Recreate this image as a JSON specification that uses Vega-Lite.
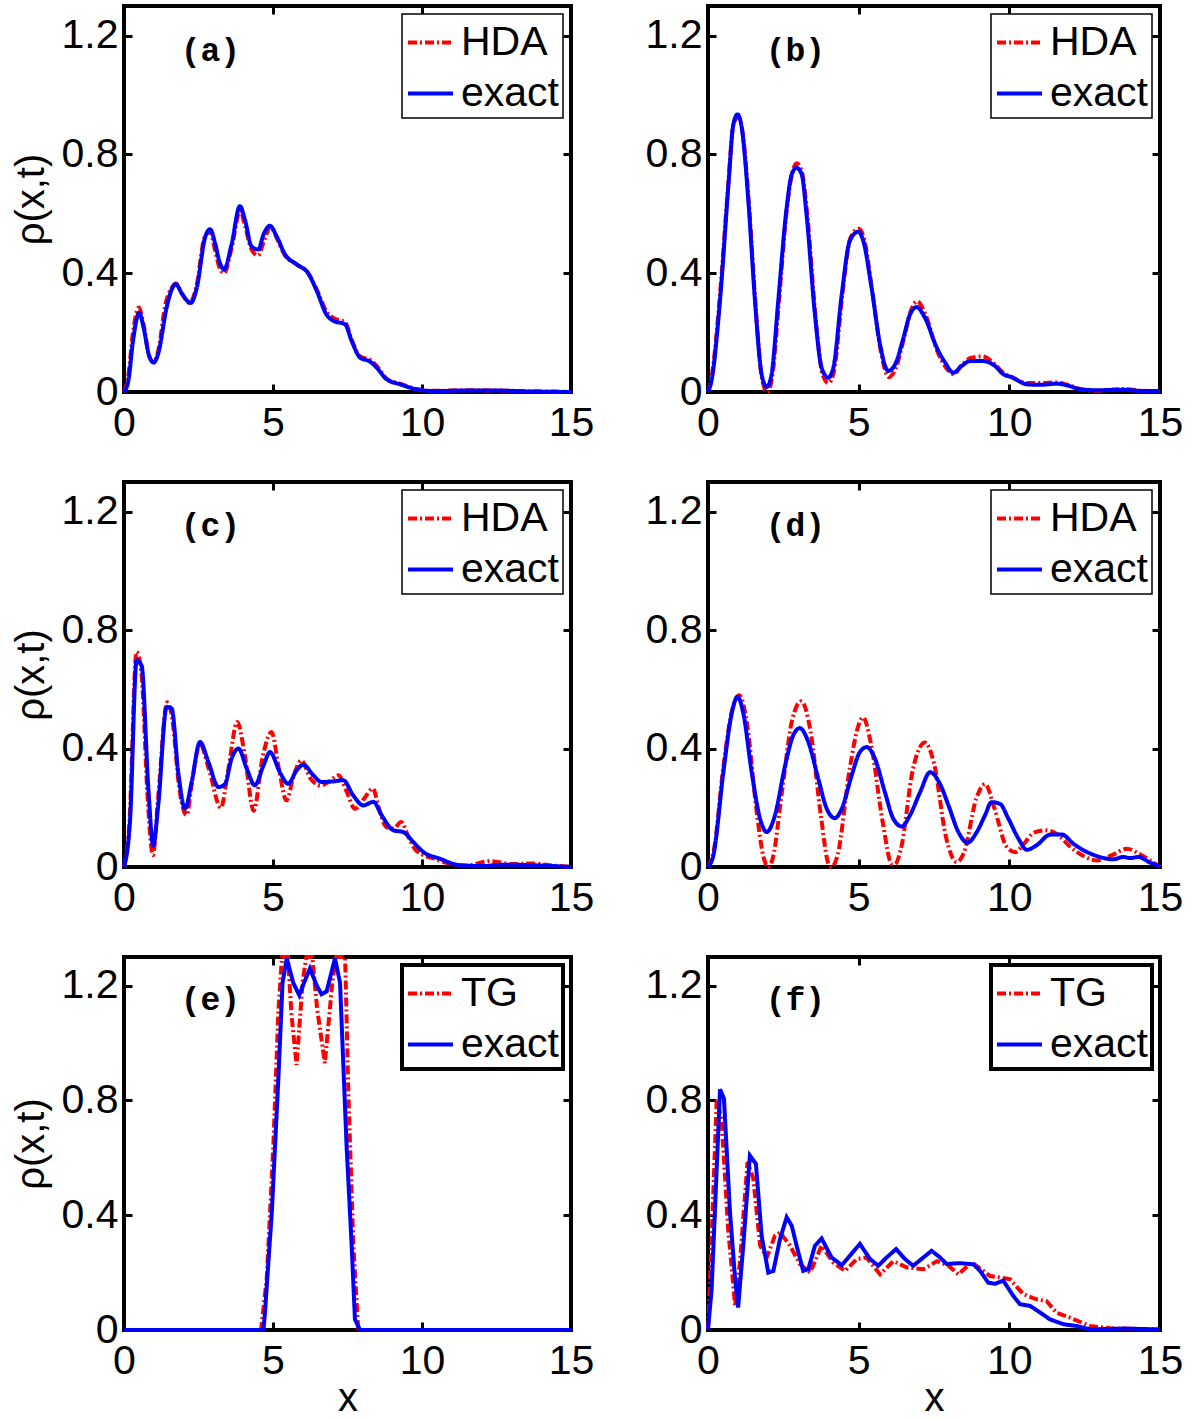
{
  "$schema": "https://vega.github.io/schema/vega-lite/v6.json",
  "padding": {"left": 9, "top": 2, "right": 5, "bottom": 5},
  "background": "white",
  "config": {
    "font": "Liberation Sans",
    "view": {"stroke": "black", "strokeWidth": 4},
    "axis": {"domain": false, "grid": false, "labelFontSize": 41, "labelColor": "black", "labelFont": "Liberation Sans",
      "tickColor": "black", "tickSize": -8, "tickWidth": 3, "labelPadding": 14, "labelFlush": false, "labelOverlap": false,
      "titleFontSize": 40, "titleFontWeight": "normal", "titleColor": "black", "titleFont": "Liberation Sans", "titlePadding": 10},
    "axisX": {"labelPadding": 19, "titlePadding": -3},
    "legend": {"orient": "top-right", "offset": 8, "labelFontSize": 41, "labelFont": "Liberation Sans", "labelColor": "black",
      "symbolType": "stroke", "symbolSize": 2025, "symbolStrokeWidth": 4, "padding": 4, "rowPadding": 6, "labelOffset": 6,
      "strokeColor": "black", "fillColor": "white", "labelLimit": 0}
  },
  "data": {"name": "d"},
  "columns": 2,
  "spacing": {"row": 90, "column": 137},
  "bounds": "flush",
  "align": "each",
  "resolve": {"scale": {"color": "independent", "strokeDash": "independent"}},
  "concat": [
    {"width": 447, "height": 386, "layer": [
      {"transform": [{"filter": "datum.p=='a' && datum.s=='HDA'"}], "mark": {"type": "line", "strokeWidth": 4, "interpolate": "monotone"},
       "encoding": {"x": {"field": "x", "type": "quantitative", "scale": {"domain": [0, 15], "nice": false, "zero": false}, "axis": {"values": [0, 5, 10, 15], "format": "d", "title": null}},
         "y": {"field": "y", "type": "quantitative", "scale": {"domain": [0, 1.3], "nice": false}, "axis": {"values": [0, 0.4, 0.8, 1.2], "labelExpr": "datum.value == 0 ? '0' : format(datum.value, '.1f')", "title": "ρ(x,t)"}},
         "color": {"field": "s", "type": "nominal", "scale": {"domain": ["HDA", "exact"], "range": ["#ff0000", "#0000ff"]}, "legend": {"title": null, "encode": {"legend": {"update": {"strokeWidth": {"value": 1.5}}}}}},
         "strokeDash": {"field": "s", "type": "nominal", "scale": {"domain": ["HDA", "exact"], "range": [[9, 3, 2, 3], [1, 0]]}, "legend": {"title": null}}}},
      {"transform": [{"filter": "datum.p=='a' && datum.s=='exact'"}], "mark": {"type": "line", "strokeWidth": 4, "interpolate": "monotone"},
       "encoding": {"x": {"field": "x", "type": "quantitative", "scale": {"domain": [0, 15], "nice": false, "zero": false}, "axis": null},
         "y": {"field": "y", "type": "quantitative", "scale": {"domain": [0, 1.3], "nice": false}, "axis": null},
         "color": {"field": "s", "type": "nominal", "scale": {"domain": ["HDA", "exact"], "range": ["#ff0000", "#0000ff"]}},
         "strokeDash": {"field": "s", "type": "nominal", "scale": {"domain": ["HDA", "exact"], "range": [[9, 3, 2, 3], [1, 0]]}}}},
      {"data": {"values": [{}]}, "mark": {"type": "text", "font": "Liberation Mono", "fontWeight": "bold", "fontSize": 33, "color": "black"},
       "encoding": {"x": {"datum": 2.9, "type": "quantitative", "scale": {"domain": [0, 15], "nice": false, "zero": false}, "axis": {"orient": "top", "values": [0, 5, 10, 15], "labels": false, "title": null}},
         "y": {"datum": 1.15, "type": "quantitative", "scale": {"domain": [0, 1.3], "nice": false}, "axis": {"orient": "right", "values": [0, 0.4, 0.8, 1.2], "labels": false, "title": null}},
         "text": {"value": "(a)"}}}
    ], "resolve": {"axis": {"x": "independent", "y": "independent"}}},

    {"width": 452, "height": 386, "layer": [
      {"transform": [{"filter": "datum.p=='b' && datum.s=='HDA'"}], "mark": {"type": "line", "strokeWidth": 4, "interpolate": "monotone"},
       "encoding": {"x": {"field": "x", "type": "quantitative", "scale": {"domain": [0, 15], "nice": false, "zero": false}, "axis": {"values": [0, 5, 10, 15], "format": "d", "title": null}},
         "y": {"field": "y", "type": "quantitative", "scale": {"domain": [0, 1.3], "nice": false}, "axis": {"values": [0, 0.4, 0.8, 1.2], "labelExpr": "datum.value == 0 ? '0' : format(datum.value, '.1f')", "title": null}},
         "color": {"field": "s", "type": "nominal", "scale": {"domain": ["HDA", "exact"], "range": ["#ff0000", "#0000ff"]}, "legend": {"title": null, "encode": {"legend": {"update": {"strokeWidth": {"value": 1.5}}}}}},
         "strokeDash": {"field": "s", "type": "nominal", "scale": {"domain": ["HDA", "exact"], "range": [[9, 3, 2, 3], [1, 0]]}, "legend": {"title": null}}}},
      {"transform": [{"filter": "datum.p=='b' && datum.s=='exact'"}], "mark": {"type": "line", "strokeWidth": 4, "interpolate": "monotone"},
       "encoding": {"x": {"field": "x", "type": "quantitative", "scale": {"domain": [0, 15], "nice": false, "zero": false}, "axis": null},
         "y": {"field": "y", "type": "quantitative", "scale": {"domain": [0, 1.3], "nice": false}, "axis": null},
         "color": {"field": "s", "type": "nominal", "scale": {"domain": ["HDA", "exact"], "range": ["#ff0000", "#0000ff"]}},
         "strokeDash": {"field": "s", "type": "nominal", "scale": {"domain": ["HDA", "exact"], "range": [[9, 3, 2, 3], [1, 0]]}}}},
      {"data": {"values": [{}]}, "mark": {"type": "text", "font": "Liberation Mono", "fontWeight": "bold", "fontSize": 33, "color": "black"},
       "encoding": {"x": {"datum": 2.9, "type": "quantitative", "scale": {"domain": [0, 15], "nice": false, "zero": false}, "axis": {"orient": "top", "values": [0, 5, 10, 15], "labels": false, "title": null}},
         "y": {"datum": 1.15, "type": "quantitative", "scale": {"domain": [0, 1.3], "nice": false}, "axis": {"orient": "right", "values": [0, 0.4, 0.8, 1.2], "labels": false, "title": null}},
         "text": {"value": "(b)"}}}
    ], "resolve": {"axis": {"x": "independent", "y": "independent"}}},

    {"width": 447, "height": 385, "layer": [
      {"transform": [{"filter": "datum.p=='c' && datum.s=='HDA'"}], "mark": {"type": "line", "strokeWidth": 4, "interpolate": "monotone"},
       "encoding": {"x": {"field": "x", "type": "quantitative", "scale": {"domain": [0, 15], "nice": false, "zero": false}, "axis": {"values": [0, 5, 10, 15], "format": "d", "title": null}},
         "y": {"field": "y", "type": "quantitative", "scale": {"domain": [0, 1.3], "nice": false}, "axis": {"values": [0, 0.4, 0.8, 1.2], "labelExpr": "datum.value == 0 ? '0' : format(datum.value, '.1f')", "title": "ρ(x,t)"}},
         "color": {"field": "s", "type": "nominal", "scale": {"domain": ["HDA", "exact"], "range": ["#ff0000", "#0000ff"]}, "legend": {"title": null, "encode": {"legend": {"update": {"strokeWidth": {"value": 1.5}}}}}},
         "strokeDash": {"field": "s", "type": "nominal", "scale": {"domain": ["HDA", "exact"], "range": [[9, 3, 2, 3], [1, 0]]}, "legend": {"title": null}}}},
      {"transform": [{"filter": "datum.p=='c' && datum.s=='exact'"}], "mark": {"type": "line", "strokeWidth": 4, "interpolate": "monotone"},
       "encoding": {"x": {"field": "x", "type": "quantitative", "scale": {"domain": [0, 15], "nice": false, "zero": false}, "axis": null},
         "y": {"field": "y", "type": "quantitative", "scale": {"domain": [0, 1.3], "nice": false}, "axis": null},
         "color": {"field": "s", "type": "nominal", "scale": {"domain": ["HDA", "exact"], "range": ["#ff0000", "#0000ff"]}},
         "strokeDash": {"field": "s", "type": "nominal", "scale": {"domain": ["HDA", "exact"], "range": [[9, 3, 2, 3], [1, 0]]}}}},
      {"data": {"values": [{}]}, "mark": {"type": "text", "font": "Liberation Mono", "fontWeight": "bold", "fontSize": 33, "color": "black"},
       "encoding": {"x": {"datum": 2.9, "type": "quantitative", "scale": {"domain": [0, 15], "nice": false, "zero": false}, "axis": {"orient": "top", "values": [0, 5, 10, 15], "labels": false, "title": null}},
         "y": {"datum": 1.15, "type": "quantitative", "scale": {"domain": [0, 1.3], "nice": false}, "axis": {"orient": "right", "values": [0, 0.4, 0.8, 1.2], "labels": false, "title": null}},
         "text": {"value": "(c)"}}}
    ], "resolve": {"axis": {"x": "independent", "y": "independent"}}},

    {"width": 452, "height": 385, "layer": [
      {"transform": [{"filter": "datum.p=='d' && datum.s=='HDA'"}], "mark": {"type": "line", "strokeWidth": 4, "interpolate": "monotone"},
       "encoding": {"x": {"field": "x", "type": "quantitative", "scale": {"domain": [0, 15], "nice": false, "zero": false}, "axis": {"values": [0, 5, 10, 15], "format": "d", "title": null}},
         "y": {"field": "y", "type": "quantitative", "scale": {"domain": [0, 1.3], "nice": false}, "axis": {"values": [0, 0.4, 0.8, 1.2], "labelExpr": "datum.value == 0 ? '0' : format(datum.value, '.1f')", "title": null}},
         "color": {"field": "s", "type": "nominal", "scale": {"domain": ["HDA", "exact"], "range": ["#ff0000", "#0000ff"]}, "legend": {"title": null, "encode": {"legend": {"update": {"strokeWidth": {"value": 1.5}}}}}},
         "strokeDash": {"field": "s", "type": "nominal", "scale": {"domain": ["HDA", "exact"], "range": [[9, 3, 2, 3], [1, 0]]}, "legend": {"title": null}}}},
      {"transform": [{"filter": "datum.p=='d' && datum.s=='exact'"}], "mark": {"type": "line", "strokeWidth": 4, "interpolate": "monotone"},
       "encoding": {"x": {"field": "x", "type": "quantitative", "scale": {"domain": [0, 15], "nice": false, "zero": false}, "axis": null},
         "y": {"field": "y", "type": "quantitative", "scale": {"domain": [0, 1.3], "nice": false}, "axis": null},
         "color": {"field": "s", "type": "nominal", "scale": {"domain": ["HDA", "exact"], "range": ["#ff0000", "#0000ff"]}},
         "strokeDash": {"field": "s", "type": "nominal", "scale": {"domain": ["HDA", "exact"], "range": [[9, 3, 2, 3], [1, 0]]}}}},
      {"data": {"values": [{}]}, "mark": {"type": "text", "font": "Liberation Mono", "fontWeight": "bold", "fontSize": 33, "color": "black"},
       "encoding": {"x": {"datum": 2.9, "type": "quantitative", "scale": {"domain": [0, 15], "nice": false, "zero": false}, "axis": {"orient": "top", "values": [0, 5, 10, 15], "labels": false, "title": null}},
         "y": {"datum": 1.15, "type": "quantitative", "scale": {"domain": [0, 1.3], "nice": false}, "axis": {"orient": "right", "values": [0, 0.4, 0.8, 1.2], "labels": false, "title": null}},
         "text": {"value": "(d)"}}}
    ], "resolve": {"axis": {"x": "independent", "y": "independent"}}},

    {"width": 447, "height": 373, "layer": [
      {"transform": [{"filter": "datum.p=='e' && datum.s=='TG'"}], "mark": {"type": "line", "strokeWidth": 4},
       "encoding": {"x": {"field": "x", "type": "quantitative", "scale": {"domain": [0, 15], "nice": false, "zero": false}, "axis": {"values": [0, 5, 10, 15], "format": "d", "title": "x"}},
         "y": {"field": "y", "type": "quantitative", "scale": {"domain": [0, 1.3], "nice": false}, "axis": {"values": [0, 0.4, 0.8, 1.2], "labelExpr": "datum.value == 0 ? '0' : format(datum.value, '.1f')", "title": "ρ(x,t)"}},
         "color": {"field": "s", "type": "nominal", "scale": {"domain": ["TG", "exact"], "range": ["#ff0000", "#0000ff"]}, "legend": {"title": null, "encode": {"legend": {"update": {"strokeWidth": {"value": 4}}}}}},
         "strokeDash": {"field": "s", "type": "nominal", "scale": {"domain": ["TG", "exact"], "range": [[9, 3, 2, 3], [1, 0]]}, "legend": {"title": null}}}},
      {"transform": [{"filter": "datum.p=='e' && datum.s=='exact'"}], "mark": {"type": "line", "strokeWidth": 4},
       "encoding": {"x": {"field": "x", "type": "quantitative", "scale": {"domain": [0, 15], "nice": false, "zero": false}, "axis": null},
         "y": {"field": "y", "type": "quantitative", "scale": {"domain": [0, 1.3], "nice": false}, "axis": null},
         "color": {"field": "s", "type": "nominal", "scale": {"domain": ["TG", "exact"], "range": ["#ff0000", "#0000ff"]}},
         "strokeDash": {"field": "s", "type": "nominal", "scale": {"domain": ["TG", "exact"], "range": [[9, 3, 2, 3], [1, 0]]}}}},
      {"data": {"values": [{}]}, "mark": {"type": "text", "font": "Liberation Mono", "fontWeight": "bold", "fontSize": 33, "color": "black"},
       "encoding": {"x": {"datum": 2.9, "type": "quantitative", "scale": {"domain": [0, 15], "nice": false, "zero": false}, "axis": {"orient": "top", "values": [0, 5, 10, 15], "labels": false, "title": null}},
         "y": {"datum": 1.15, "type": "quantitative", "scale": {"domain": [0, 1.3], "nice": false}, "axis": {"orient": "right", "values": [0, 0.4, 0.8, 1.2], "labels": false, "title": null}},
         "text": {"value": "(e)"}}}
    ], "resolve": {"axis": {"x": "independent", "y": "independent"}}},

    {"width": 452, "height": 373, "layer": [
      {"transform": [{"filter": "datum.p=='f' && datum.s=='TG'"}], "mark": {"type": "line", "strokeWidth": 4},
       "encoding": {"x": {"field": "x", "type": "quantitative", "scale": {"domain": [0, 15], "nice": false, "zero": false}, "axis": {"values": [0, 5, 10, 15], "format": "d", "title": "x"}},
         "y": {"field": "y", "type": "quantitative", "scale": {"domain": [0, 1.3], "nice": false}, "axis": {"values": [0, 0.4, 0.8, 1.2], "labelExpr": "datum.value == 0 ? '0' : format(datum.value, '.1f')", "title": null}},
         "color": {"field": "s", "type": "nominal", "scale": {"domain": ["TG", "exact"], "range": ["#ff0000", "#0000ff"]}, "legend": {"title": null, "encode": {"legend": {"update": {"strokeWidth": {"value": 4}}}}}},
         "strokeDash": {"field": "s", "type": "nominal", "scale": {"domain": ["TG", "exact"], "range": [[9, 3, 2, 3], [1, 0]]}, "legend": {"title": null}}}},
      {"transform": [{"filter": "datum.p=='f' && datum.s=='exact'"}], "mark": {"type": "line", "strokeWidth": 4},
       "encoding": {"x": {"field": "x", "type": "quantitative", "scale": {"domain": [0, 15], "nice": false, "zero": false}, "axis": null},
         "y": {"field": "y", "type": "quantitative", "scale": {"domain": [0, 1.3], "nice": false}, "axis": null},
         "color": {"field": "s", "type": "nominal", "scale": {"domain": ["TG", "exact"], "range": ["#ff0000", "#0000ff"]}},
         "strokeDash": {"field": "s", "type": "nominal", "scale": {"domain": ["TG", "exact"], "range": [[9, 3, 2, 3], [1, 0]]}}}},
      {"data": {"values": [{}]}, "mark": {"type": "text", "font": "Liberation Mono", "fontWeight": "bold", "fontSize": 33, "color": "black"},
       "encoding": {"x": {"datum": 2.9, "type": "quantitative", "scale": {"domain": [0, 15], "nice": false, "zero": false}, "axis": {"orient": "top", "values": [0, 5, 10, 15], "labels": false, "title": null}},
         "y": {"datum": 1.15, "type": "quantitative", "scale": {"domain": [0, 1.3], "nice": false}, "axis": {"orient": "right", "values": [0, 0.4, 0.8, 1.2], "labels": false, "title": null}},
         "text": {"value": "(f)"}}}
    ], "resolve": {"axis": {"x": "independent", "y": "independent"}}}
  ],
  "datasets": {"d": [
{"p":"a","s":"HDA","x":0,"y":0},{"p":"a","s":"HDA","x":0.15,"y":0.06},{"p":"a","s":"HDA","x":0.3,"y":0.2},{"p":"a","s":"HDA","x":0.5,"y":0.285},{"p":"a","s":"HDA","x":0.65,"y":0.23},{"p":"a","s":"HDA","x":0.85,"y":0.12},{"p":"a","s":"HDA","x":1.0,"y":0.1},{"p":"a","s":"HDA","x":1.15,"y":0.14},{"p":"a","s":"HDA","x":1.4,"y":0.3},{"p":"a","s":"HDA","x":1.6,"y":0.35},{"p":"a","s":"HDA","x":1.74,"y":0.365},{"p":"a","s":"HDA","x":1.95,"y":0.33},{"p":"a","s":"HDA","x":2.2,"y":0.3},{"p":"a","s":"HDA","x":2.44,"y":0.36},{"p":"a","s":"HDA","x":2.7,"y":0.52},{"p":"a","s":"HDA","x":2.88,"y":0.54},{"p":"a","s":"HDA","x":3.05,"y":0.48},{"p":"a","s":"HDA","x":3.2,"y":0.42},{"p":"a","s":"HDA","x":3.36,"y":0.4},{"p":"a","s":"HDA","x":3.6,"y":0.48},{"p":"a","s":"HDA","x":3.9,"y":0.61},{"p":"a","s":"HDA","x":4.06,"y":0.56},{"p":"a","s":"HDA","x":4.28,"y":0.48},{"p":"a","s":"HDA","x":4.5,"y":0.46},{"p":"a","s":"HDA","x":4.7,"y":0.51},{"p":"a","s":"HDA","x":4.92,"y":0.555},{"p":"a","s":"HDA","x":5.12,"y":0.52},{"p":"a","s":"HDA","x":5.4,"y":0.46},{"p":"a","s":"HDA","x":5.79,"y":0.43},{"p":"a","s":"HDA","x":6.18,"y":0.4},{"p":"a","s":"HDA","x":6.47,"y":0.345},{"p":"a","s":"HDA","x":6.8,"y":0.27},{"p":"a","s":"HDA","x":7.02,"y":0.25},{"p":"a","s":"HDA","x":7.42,"y":0.235},{"p":"a","s":"HDA","x":7.64,"y":0.175},{"p":"a","s":"HDA","x":7.92,"y":0.12},{"p":"a","s":"HDA","x":8.26,"y":0.108},{"p":"a","s":"HDA","x":8.48,"y":0.088},{"p":"a","s":"HDA","x":8.81,"y":0.045},{"p":"a","s":"HDA","x":9.26,"y":0.028},{"p":"a","s":"HDA","x":9.82,"y":0.01},{"p":"a","s":"HDA","x":10.4,"y":0.004},{"p":"a","s":"HDA","x":11.5,"y":0.006},{"p":"a","s":"HDA","x":12.4,"y":0.005},{"p":"a","s":"HDA","x":13.5,"y":0.003},{"p":"a","s":"HDA","x":15,"y":0},
{"p":"a","s":"exact","x":0,"y":0},{"p":"a","s":"exact","x":0.15,"y":0.04},{"p":"a","s":"exact","x":0.3,"y":0.17},{"p":"a","s":"exact","x":0.51,"y":0.267},{"p":"a","s":"exact","x":0.65,"y":0.22},{"p":"a","s":"exact","x":0.85,"y":0.12},{"p":"a","s":"exact","x":1.0,"y":0.099},{"p":"a","s":"exact","x":1.15,"y":0.13},{"p":"a","s":"exact","x":1.43,"y":0.284},{"p":"a","s":"exact","x":1.6,"y":0.345},{"p":"a","s":"exact","x":1.74,"y":0.363},{"p":"a","s":"exact","x":1.95,"y":0.33},{"p":"a","s":"exact","x":2.24,"y":0.3},{"p":"a","s":"exact","x":2.44,"y":0.35},{"p":"a","s":"exact","x":2.72,"y":0.52},{"p":"a","s":"exact","x":2.89,"y":0.548},{"p":"a","s":"exact","x":3.06,"y":0.5},{"p":"a","s":"exact","x":3.2,"y":0.44},{"p":"a","s":"exact","x":3.36,"y":0.413},{"p":"a","s":"exact","x":3.61,"y":0.497},{"p":"a","s":"exact","x":3.89,"y":0.626},{"p":"a","s":"exact","x":4.06,"y":0.58},{"p":"a","s":"exact","x":4.28,"y":0.49},{"p":"a","s":"exact","x":4.51,"y":0.48},{"p":"a","s":"exact","x":4.68,"y":0.53},{"p":"a","s":"exact","x":4.9,"y":0.56},{"p":"a","s":"exact","x":5.12,"y":0.525},{"p":"a","s":"exact","x":5.4,"y":0.464},{"p":"a","s":"exact","x":5.79,"y":0.43},{"p":"a","s":"exact","x":6.18,"y":0.4},{"p":"a","s":"exact","x":6.47,"y":0.34},{"p":"a","s":"exact","x":6.8,"y":0.26},{"p":"a","s":"exact","x":7.02,"y":0.24},{"p":"a","s":"exact","x":7.42,"y":0.228},{"p":"a","s":"exact","x":7.64,"y":0.172},{"p":"a","s":"exact","x":7.92,"y":0.116},{"p":"a","s":"exact","x":8.26,"y":0.102},{"p":"a","s":"exact","x":8.48,"y":0.082},{"p":"a","s":"exact","x":8.81,"y":0.043},{"p":"a","s":"exact","x":9.26,"y":0.026},{"p":"a","s":"exact","x":9.82,"y":0.009},{"p":"a","s":"exact","x":10.4,"y":0.003},{"p":"a","s":"exact","x":11.5,"y":0.005},{"p":"a","s":"exact","x":12.4,"y":0.005},{"p":"a","s":"exact","x":13.5,"y":0.002},{"p":"a","s":"exact","x":15,"y":0},
{"p":"b","s":"HDA","x":0,"y":0},{"p":"b","s":"HDA","x":0.12,"y":0.05},{"p":"b","s":"HDA","x":0.4,"y":0.33},{"p":"b","s":"HDA","x":0.68,"y":0.71},{"p":"b","s":"HDA","x":0.84,"y":0.9},{"p":"b","s":"HDA","x":1.0,"y":0.925},{"p":"b","s":"HDA","x":1.14,"y":0.88},{"p":"b","s":"HDA","x":1.36,"y":0.63},{"p":"b","s":"HDA","x":1.58,"y":0.29},{"p":"b","s":"HDA","x":1.8,"y":0.04},{"p":"b","s":"HDA","x":1.97,"y":0.0},{"p":"b","s":"HDA","x":2.13,"y":0.05},{"p":"b","s":"HDA","x":2.35,"y":0.3},{"p":"b","s":"HDA","x":2.62,"y":0.62},{"p":"b","s":"HDA","x":2.8,"y":0.74},{"p":"b","s":"HDA","x":2.95,"y":0.77},{"p":"b","s":"HDA","x":3.12,"y":0.74},{"p":"b","s":"HDA","x":3.3,"y":0.59},{"p":"b","s":"HDA","x":3.58,"y":0.24},{"p":"b","s":"HDA","x":3.8,"y":0.06},{"p":"b","s":"HDA","x":4.0,"y":0.03},{"p":"b","s":"HDA","x":4.18,"y":0.07},{"p":"b","s":"HDA","x":4.46,"y":0.33},{"p":"b","s":"HDA","x":4.73,"y":0.52},{"p":"b","s":"HDA","x":5.0,"y":0.55},{"p":"b","s":"HDA","x":5.17,"y":0.52},{"p":"b","s":"HDA","x":5.45,"y":0.34},{"p":"b","s":"HDA","x":5.73,"y":0.14},{"p":"b","s":"HDA","x":6.0,"y":0.05},{"p":"b","s":"HDA","x":6.23,"y":0.08},{"p":"b","s":"HDA","x":6.5,"y":0.18},{"p":"b","s":"HDA","x":6.72,"y":0.27},{"p":"b","s":"HDA","x":6.94,"y":0.305},{"p":"b","s":"HDA","x":7.22,"y":0.26},{"p":"b","s":"HDA","x":7.6,"y":0.14},{"p":"b","s":"HDA","x":7.88,"y":0.085},{"p":"b","s":"HDA","x":8.15,"y":0.06},{"p":"b","s":"HDA","x":8.42,"y":0.09},{"p":"b","s":"HDA","x":8.72,"y":0.115},{"p":"b","s":"HDA","x":9.1,"y":0.12},{"p":"b","s":"HDA","x":9.5,"y":0.095},{"p":"b","s":"HDA","x":9.8,"y":0.065},{"p":"b","s":"HDA","x":10.08,"y":0.05},{"p":"b","s":"HDA","x":10.58,"y":0.03},{"p":"b","s":"HDA","x":11.0,"y":0.03},{"p":"b","s":"HDA","x":11.57,"y":0.032},{"p":"b","s":"HDA","x":12.0,"y":0.022},{"p":"b","s":"HDA","x":12.35,"y":0.01},{"p":"b","s":"HDA","x":12.9,"y":0.004},{"p":"b","s":"HDA","x":13.8,"y":0.01},{"p":"b","s":"HDA","x":14.45,"y":0.004},{"p":"b","s":"HDA","x":15,"y":0.002},
{"p":"b","s":"exact","x":0,"y":0},{"p":"b","s":"exact","x":0.12,"y":0.04},{"p":"b","s":"exact","x":0.4,"y":0.31},{"p":"b","s":"exact","x":0.68,"y":0.7},{"p":"b","s":"exact","x":0.84,"y":0.9},{"p":"b","s":"exact","x":0.98,"y":0.935},{"p":"b","s":"exact","x":1.12,"y":0.89},{"p":"b","s":"exact","x":1.34,"y":0.643},{"p":"b","s":"exact","x":1.56,"y":0.306},{"p":"b","s":"exact","x":1.78,"y":0.06},{"p":"b","s":"exact","x":1.95,"y":0.017},{"p":"b","s":"exact","x":2.11,"y":0.06},{"p":"b","s":"exact","x":2.33,"y":0.306},{"p":"b","s":"exact","x":2.61,"y":0.62},{"p":"b","s":"exact","x":2.78,"y":0.733},{"p":"b","s":"exact","x":2.94,"y":0.755},{"p":"b","s":"exact","x":3.11,"y":0.733},{"p":"b","s":"exact","x":3.27,"y":0.598},{"p":"b","s":"exact","x":3.55,"y":0.26},{"p":"b","s":"exact","x":3.77,"y":0.082},{"p":"b","s":"exact","x":3.99,"y":0.048},{"p":"b","s":"exact","x":4.16,"y":0.082},{"p":"b","s":"exact","x":4.44,"y":0.33},{"p":"b","s":"exact","x":4.71,"y":0.51},{"p":"b","s":"exact","x":4.99,"y":0.54},{"p":"b","s":"exact","x":5.15,"y":0.51},{"p":"b","s":"exact","x":5.43,"y":0.35},{"p":"b","s":"exact","x":5.71,"y":0.16},{"p":"b","s":"exact","x":5.98,"y":0.071},{"p":"b","s":"exact","x":6.21,"y":0.093},{"p":"b","s":"exact","x":6.48,"y":0.18},{"p":"b","s":"exact","x":6.7,"y":0.26},{"p":"b","s":"exact","x":6.92,"y":0.286},{"p":"b","s":"exact","x":7.2,"y":0.25},{"p":"b","s":"exact","x":7.59,"y":0.15},{"p":"b","s":"exact","x":7.87,"y":0.099},{"p":"b","s":"exact","x":8.14,"y":0.065},{"p":"b","s":"exact","x":8.42,"y":0.088},{"p":"b","s":"exact","x":8.7,"y":0.104},{"p":"b","s":"exact","x":9.14,"y":0.104},{"p":"b","s":"exact","x":9.52,"y":0.088},{"p":"b","s":"exact","x":9.8,"y":0.06},{"p":"b","s":"exact","x":10.08,"y":0.05},{"p":"b","s":"exact","x":10.58,"y":0.026},{"p":"b","s":"exact","x":11.0,"y":0.024},{"p":"b","s":"exact","x":11.57,"y":0.028},{"p":"b","s":"exact","x":12.0,"y":0.02},{"p":"b","s":"exact","x":12.35,"y":0.009},{"p":"b","s":"exact","x":12.9,"y":0.006},{"p":"b","s":"exact","x":13.8,"y":0.008},{"p":"b","s":"exact","x":14.45,"y":0.003},{"p":"b","s":"exact","x":15,"y":0.003},
{"p":"c","s":"HDA","x":0,"y":0},{"p":"c","s":"HDA","x":0.18,"y":0.15},{"p":"c","s":"HDA","x":0.42,"y":0.726},{"p":"c","s":"HDA","x":0.58,"y":0.66},{"p":"c","s":"HDA","x":0.8,"y":0.22},{"p":"c","s":"HDA","x":0.97,"y":0.04},{"p":"c","s":"HDA","x":1.15,"y":0.24},{"p":"c","s":"HDA","x":1.45,"y":0.556},{"p":"c","s":"HDA","x":1.62,"y":0.5},{"p":"c","s":"HDA","x":1.85,"y":0.27},{"p":"c","s":"HDA","x":2.1,"y":0.175},{"p":"c","s":"HDA","x":2.3,"y":0.3},{"p":"c","s":"HDA","x":2.55,"y":0.416},{"p":"c","s":"HDA","x":2.85,"y":0.33},{"p":"c","s":"HDA","x":3.25,"y":0.2},{"p":"c","s":"HDA","x":3.5,"y":0.33},{"p":"c","s":"HDA","x":3.8,"y":0.49},{"p":"c","s":"HDA","x":4.05,"y":0.38},{"p":"c","s":"HDA","x":4.35,"y":0.19},{"p":"c","s":"HDA","x":4.65,"y":0.37},{"p":"c","s":"HDA","x":4.95,"y":0.456},{"p":"c","s":"HDA","x":5.2,"y":0.33},{"p":"c","s":"HDA","x":5.45,"y":0.225},{"p":"c","s":"HDA","x":5.7,"y":0.31},{"p":"c","s":"HDA","x":5.95,"y":0.36},{"p":"c","s":"HDA","x":6.25,"y":0.3},{"p":"c","s":"HDA","x":6.6,"y":0.275},{"p":"c","s":"HDA","x":6.9,"y":0.29},{"p":"c","s":"HDA","x":7.2,"y":0.31},{"p":"c","s":"HDA","x":7.45,"y":0.26},{"p":"c","s":"HDA","x":7.75,"y":0.197},{"p":"c","s":"HDA","x":8.05,"y":0.23},{"p":"c","s":"HDA","x":8.35,"y":0.265},{"p":"c","s":"HDA","x":8.55,"y":0.2},{"p":"c","s":"HDA","x":8.8,"y":0.135},{"p":"c","s":"HDA","x":9.05,"y":0.13},{"p":"c","s":"HDA","x":9.3,"y":0.152},{"p":"c","s":"HDA","x":9.55,"y":0.1},{"p":"c","s":"HDA","x":9.8,"y":0.056},{"p":"c","s":"HDA","x":10.5,"y":0.025},{"p":"c","s":"HDA","x":11.0,"y":0.01},{"p":"c","s":"HDA","x":11.5,"y":0.005},{"p":"c","s":"HDA","x":12.3,"y":0.02},{"p":"c","s":"HDA","x":13.0,"y":0.01},{"p":"c","s":"HDA","x":13.7,"y":0.012},{"p":"c","s":"HDA","x":14.3,"y":0.006},{"p":"c","s":"HDA","x":15,"y":0},
{"p":"c","s":"exact","x":0,"y":0},{"p":"c","s":"exact","x":0.2,"y":0.152},{"p":"c","s":"exact","x":0.425,"y":0.698},{"p":"c","s":"exact","x":0.59,"y":0.68},{"p":"c","s":"exact","x":0.82,"y":0.26},{"p":"c","s":"exact","x":0.98,"y":0.073},{"p":"c","s":"exact","x":1.15,"y":0.21},{"p":"c","s":"exact","x":1.43,"y":0.54},{"p":"c","s":"exact","x":1.6,"y":0.535},{"p":"c","s":"exact","x":1.82,"y":0.32},{"p":"c","s":"exact","x":2.05,"y":0.197},{"p":"c","s":"exact","x":2.27,"y":0.287},{"p":"c","s":"exact","x":2.55,"y":0.422},{"p":"c","s":"exact","x":2.83,"y":0.355},{"p":"c","s":"exact","x":3.17,"y":0.27},{"p":"c","s":"exact","x":3.39,"y":0.28},{"p":"c","s":"exact","x":3.61,"y":0.366},{"p":"c","s":"exact","x":3.84,"y":0.4},{"p":"c","s":"exact","x":4.12,"y":0.332},{"p":"c","s":"exact","x":4.39,"y":0.276},{"p":"c","s":"exact","x":4.68,"y":0.343},{"p":"c","s":"exact","x":4.9,"y":0.388},{"p":"c","s":"exact","x":5.23,"y":0.32},{"p":"c","s":"exact","x":5.51,"y":0.281},{"p":"c","s":"exact","x":5.79,"y":0.326},{"p":"c","s":"exact","x":6.02,"y":0.345},{"p":"c","s":"exact","x":6.35,"y":0.31},{"p":"c","s":"exact","x":6.63,"y":0.287},{"p":"c","s":"exact","x":7.02,"y":0.289},{"p":"c","s":"exact","x":7.36,"y":0.293},{"p":"c","s":"exact","x":7.69,"y":0.242},{"p":"c","s":"exact","x":8.03,"y":0.208},{"p":"c","s":"exact","x":8.37,"y":0.22},{"p":"c","s":"exact","x":8.65,"y":0.174},{"p":"c","s":"exact","x":9.04,"y":0.124},{"p":"c","s":"exact","x":9.37,"y":0.118},{"p":"c","s":"exact","x":9.71,"y":0.084},{"p":"c","s":"exact","x":10.04,"y":0.051},{"p":"c","s":"exact","x":10.6,"y":0.028},{"p":"c","s":"exact","x":11.27,"y":0.006},{"p":"c","s":"exact","x":12.06,"y":0.003},{"p":"c","s":"exact","x":12.6,"y":0.008},{"p":"c","s":"exact","x":13.7,"y":0.006},{"p":"c","s":"exact","x":15,"y":0},
{"p":"d","s":"HDA","x":0,"y":0},{"p":"d","s":"HDA","x":0.2,"y":0.06},{"p":"d","s":"HDA","x":0.5,"y":0.33},{"p":"d","s":"HDA","x":0.8,"y":0.53},{"p":"d","s":"HDA","x":1.04,"y":0.58},{"p":"d","s":"HDA","x":1.3,"y":0.48},{"p":"d","s":"HDA","x":1.6,"y":0.2},{"p":"d","s":"HDA","x":1.85,"y":0.03},{"p":"d","s":"HDA","x":2.0,"y":0},{"p":"d","s":"HDA","x":2.15,"y":0.03},{"p":"d","s":"HDA","x":2.45,"y":0.25},{"p":"d","s":"HDA","x":2.8,"y":0.5},{"p":"d","s":"HDA","x":3.1,"y":0.56},{"p":"d","s":"HDA","x":3.4,"y":0.46},{"p":"d","s":"HDA","x":3.75,"y":0.17},{"p":"d","s":"HDA","x":4.0,"y":0.01},{"p":"d","s":"HDA","x":4.1,"y":0},{"p":"d","s":"HDA","x":4.3,"y":0.04},{"p":"d","s":"HDA","x":4.7,"y":0.33},{"p":"d","s":"HDA","x":5.0,"y":0.48},{"p":"d","s":"HDA","x":5.15,"y":0.505},{"p":"d","s":"HDA","x":5.4,"y":0.42},{"p":"d","s":"HDA","x":5.8,"y":0.15},{"p":"d","s":"HDA","x":6.1,"y":0.01},{"p":"d","s":"HDA","x":6.2,"y":0.01},{"p":"d","s":"HDA","x":6.4,"y":0.06},{"p":"d","s":"HDA","x":6.8,"y":0.33},{"p":"d","s":"HDA","x":7.2,"y":0.42},{"p":"d","s":"HDA","x":7.5,"y":0.35},{"p":"d","s":"HDA","x":7.9,"y":0.1},{"p":"d","s":"HDA","x":8.25,"y":0.017},{"p":"d","s":"HDA","x":8.5,"y":0.05},{"p":"d","s":"HDA","x":8.9,"y":0.23},{"p":"d","s":"HDA","x":9.2,"y":0.28},{"p":"d","s":"HDA","x":9.5,"y":0.2},{"p":"d","s":"HDA","x":9.9,"y":0.07},{"p":"d","s":"HDA","x":10.19,"y":0.05},{"p":"d","s":"HDA","x":10.5,"y":0.08},{"p":"d","s":"HDA","x":10.8,"y":0.115},{"p":"d","s":"HDA","x":11.18,"y":0.124},{"p":"d","s":"HDA","x":11.6,"y":0.11},{"p":"d","s":"HDA","x":12.0,"y":0.07},{"p":"d","s":"HDA","x":12.5,"y":0.035},{"p":"d","s":"HDA","x":12.9,"y":0.022},{"p":"d","s":"HDA","x":13.4,"y":0.04},{"p":"d","s":"HDA","x":13.9,"y":0.062},{"p":"d","s":"HDA","x":14.3,"y":0.045},{"p":"d","s":"HDA","x":14.7,"y":0.02},{"p":"d","s":"HDA","x":15,"y":0},
{"p":"d","s":"exact","x":0,"y":0},{"p":"d","s":"exact","x":0.18,"y":0.04},{"p":"d","s":"exact","x":0.51,"y":0.32},{"p":"d","s":"exact","x":0.79,"y":0.52},{"p":"d","s":"exact","x":0.98,"y":0.575},{"p":"d","s":"exact","x":1.17,"y":0.52},{"p":"d","s":"exact","x":1.45,"y":0.32},{"p":"d","s":"exact","x":1.73,"y":0.163},{"p":"d","s":"exact","x":1.95,"y":0.118},{"p":"d","s":"exact","x":2.22,"y":0.174},{"p":"d","s":"exact","x":2.56,"y":0.343},{"p":"d","s":"exact","x":2.83,"y":0.445},{"p":"d","s":"exact","x":3.05,"y":0.469},{"p":"d","s":"exact","x":3.33,"y":0.422},{"p":"d","s":"exact","x":3.66,"y":0.298},{"p":"d","s":"exact","x":3.94,"y":0.197},{"p":"d","s":"exact","x":4.21,"y":0.165},{"p":"d","s":"exact","x":4.44,"y":0.197},{"p":"d","s":"exact","x":4.77,"y":0.31},{"p":"d","s":"exact","x":5.04,"y":0.388},{"p":"d","s":"exact","x":5.27,"y":0.405},{"p":"d","s":"exact","x":5.54,"y":0.366},{"p":"d","s":"exact","x":5.87,"y":0.253},{"p":"d","s":"exact","x":6.15,"y":0.163},{"p":"d","s":"exact","x":6.43,"y":0.137},{"p":"d","s":"exact","x":6.7,"y":0.174},{"p":"d","s":"exact","x":7.04,"y":0.253},{"p":"d","s":"exact","x":7.37,"y":0.32},{"p":"d","s":"exact","x":7.7,"y":0.28},{"p":"d","s":"exact","x":7.98,"y":0.208},{"p":"d","s":"exact","x":8.31,"y":0.118},{"p":"d","s":"exact","x":8.61,"y":0.082},{"p":"d","s":"exact","x":8.92,"y":0.118},{"p":"d","s":"exact","x":9.19,"y":0.174},{"p":"d","s":"exact","x":9.41,"y":0.219},{"p":"d","s":"exact","x":9.69,"y":0.213},{"p":"d","s":"exact","x":9.97,"y":0.163},{"p":"d","s":"exact","x":10.3,"y":0.096},{"p":"d","s":"exact","x":10.58,"y":0.058},{"p":"d","s":"exact","x":10.9,"y":0.073},{"p":"d","s":"exact","x":11.35,"y":0.109},{"p":"d","s":"exact","x":11.74,"y":0.11},{"p":"d","s":"exact","x":12.12,"y":0.079},{"p":"d","s":"exact","x":12.57,"y":0.051},{"p":"d","s":"exact","x":13.0,"y":0.034},{"p":"d","s":"exact","x":13.45,"y":0.026},{"p":"d","s":"exact","x":13.78,"y":0.034},{"p":"d","s":"exact","x":14.0,"y":0.03},{"p":"d","s":"exact","x":14.28,"y":0.034},{"p":"d","s":"exact","x":14.67,"y":0.015},{"p":"d","s":"exact","x":15,"y":0.003},
{"p":"e","s":"TG","x":0,"y":0},{"p":"e","s":"TG","x":4.6,"y":0},{"p":"e","s":"TG","x":4.79,"y":0.18},{"p":"e","s":"TG","x":5.01,"y":0.64},{"p":"e","s":"TG","x":5.18,"y":1.11},{"p":"e","s":"TG","x":5.3,"y":1.3},{"p":"e","s":"TG","x":5.5,"y":1.3},{"p":"e","s":"TG","x":5.62,"y":1.1},{"p":"e","s":"TG","x":5.79,"y":0.923},{"p":"e","s":"TG","x":6.0,"y":1.22},{"p":"e","s":"TG","x":6.12,"y":1.3},{"p":"e","s":"TG","x":6.32,"y":1.3},{"p":"e","s":"TG","x":6.48,"y":1.12},{"p":"e","s":"TG","x":6.74,"y":0.93},{"p":"e","s":"TG","x":7.0,"y":1.22},{"p":"e","s":"TG","x":7.12,"y":1.3},{"p":"e","s":"TG","x":7.42,"y":1.3},{"p":"e","s":"TG","x":7.53,"y":0.82},{"p":"e","s":"TG","x":7.7,"y":0.29},{"p":"e","s":"TG","x":7.86,"y":0},{"p":"e","s":"TG","x":15,"y":0},
{"p":"e","s":"exact","x":0,"y":0},{"p":"e","s":"exact","x":4.68,"y":0},{"p":"e","s":"exact","x":4.73,"y":0.06},{"p":"e","s":"exact","x":4.96,"y":0.41},{"p":"e","s":"exact","x":5.18,"y":0.876},{"p":"e","s":"exact","x":5.32,"y":1.21},{"p":"e","s":"exact","x":5.46,"y":1.295},{"p":"e","s":"exact","x":5.68,"y":1.21},{"p":"e","s":"exact","x":5.88,"y":1.167},{"p":"e","s":"exact","x":6.04,"y":1.21},{"p":"e","s":"exact","x":6.24,"y":1.26},{"p":"e","s":"exact","x":6.47,"y":1.2},{"p":"e","s":"exact","x":6.63,"y":1.17},{"p":"e","s":"exact","x":6.8,"y":1.18},{"p":"e","s":"exact","x":7.08,"y":1.295},{"p":"e","s":"exact","x":7.25,"y":1.21},{"p":"e","s":"exact","x":7.47,"y":0.64},{"p":"e","s":"exact","x":7.64,"y":0.294},{"p":"e","s":"exact","x":7.75,"y":0.037},{"p":"e","s":"exact","x":7.92,"y":0},{"p":"e","s":"exact","x":15,"y":0},
{"p":"f","s":"TG","x":0,"y":0},{"p":"f","s":"TG","x":0.07,"y":0.177},{"p":"f","s":"TG","x":0.29,"y":0.806},{"p":"f","s":"TG","x":0.45,"y":0.73},{"p":"f","s":"TG","x":0.67,"y":0.35},{"p":"f","s":"TG","x":0.9,"y":0.084},{"p":"f","s":"TG","x":1.06,"y":0.235},{"p":"f","s":"TG","x":1.31,"y":0.585},{"p":"f","s":"TG","x":1.5,"y":0.53},{"p":"f","s":"TG","x":1.73,"y":0.294},{"p":"f","s":"TG","x":1.95,"y":0.253},{"p":"f","s":"TG","x":2.22,"y":0.328},{"p":"f","s":"TG","x":2.39,"y":0.34},{"p":"f","s":"TG","x":2.72,"y":0.294},{"p":"f","s":"TG","x":3.05,"y":0.23},{"p":"f","s":"TG","x":3.39,"y":0.2},{"p":"f","s":"TG","x":3.77,"y":0.294},{"p":"f","s":"TG","x":4.16,"y":0.235},{"p":"f","s":"TG","x":4.55,"y":0.206},{"p":"f","s":"TG","x":4.93,"y":0.247},{"p":"f","s":"TG","x":5.26,"y":0.253},{"p":"f","s":"TG","x":5.71,"y":0.194},{"p":"f","s":"TG","x":6.15,"y":0.24},{"p":"f","s":"TG","x":6.6,"y":0.218},{"p":"f","s":"TG","x":7.15,"y":0.212},{"p":"f","s":"TG","x":7.6,"y":0.24},{"p":"f","s":"TG","x":7.98,"y":0.224},{"p":"f","s":"TG","x":8.31,"y":0.194},{"p":"f","s":"TG","x":8.75,"y":0.236},{"p":"f","s":"TG","x":9.14,"y":0.206},{"p":"f","s":"TG","x":9.36,"y":0.188},{"p":"f","s":"TG","x":10.02,"y":0.177},{"p":"f","s":"TG","x":10.46,"y":0.125},{"p":"f","s":"TG","x":10.9,"y":0.107},{"p":"f","s":"TG","x":11.24,"y":0.1},{"p":"f","s":"TG","x":11.57,"y":0.06},{"p":"f","s":"TG","x":12.01,"y":0.043},{"p":"f","s":"TG","x":12.68,"y":0.014},{"p":"f","s":"TG","x":13.35,"y":0.006},{"p":"f","s":"TG","x":15,"y":0.002},
{"p":"f","s":"exact","x":0,"y":0},{"p":"f","s":"exact","x":0.12,"y":0.142},{"p":"f","s":"exact","x":0.4,"y":0.839},{"p":"f","s":"exact","x":0.53,"y":0.806},{"p":"f","s":"exact","x":0.73,"y":0.41},{"p":"f","s":"exact","x":0.9,"y":0.177},{"p":"f","s":"exact","x":1.0,"y":0.078},{"p":"f","s":"exact","x":1.17,"y":0.294},{"p":"f","s":"exact","x":1.39,"y":0.608},{"p":"f","s":"exact","x":1.59,"y":0.579},{"p":"f","s":"exact","x":1.78,"y":0.328},{"p":"f","s":"exact","x":2.0,"y":0.2},{"p":"f","s":"exact","x":2.17,"y":0.206},{"p":"f","s":"exact","x":2.39,"y":0.317},{"p":"f","s":"exact","x":2.61,"y":0.393},{"p":"f","s":"exact","x":2.78,"y":0.363},{"p":"f","s":"exact","x":2.94,"y":0.294},{"p":"f","s":"exact","x":3.16,"y":0.206},{"p":"f","s":"exact","x":3.33,"y":0.212},{"p":"f","s":"exact","x":3.55,"y":0.294},{"p":"f","s":"exact","x":3.77,"y":0.319},{"p":"f","s":"exact","x":4.1,"y":0.253},{"p":"f","s":"exact","x":4.44,"y":0.226},{"p":"f","s":"exact","x":4.71,"y":0.259},{"p":"f","s":"exact","x":5.04,"y":0.3},{"p":"f","s":"exact","x":5.38,"y":0.247},{"p":"f","s":"exact","x":5.65,"y":0.224},{"p":"f","s":"exact","x":5.93,"y":0.253},{"p":"f","s":"exact","x":6.24,"y":0.282},{"p":"f","s":"exact","x":6.54,"y":0.247},{"p":"f","s":"exact","x":6.81,"y":0.224},{"p":"f","s":"exact","x":7.15,"y":0.253},{"p":"f","s":"exact","x":7.42,"y":0.276},{"p":"f","s":"exact","x":7.7,"y":0.253},{"p":"f","s":"exact","x":7.92,"y":0.23},{"p":"f","s":"exact","x":8.36,"y":0.233},{"p":"f","s":"exact","x":8.81,"y":0.229},{"p":"f","s":"exact","x":9.03,"y":0.206},{"p":"f","s":"exact","x":9.3,"y":0.165},{"p":"f","s":"exact","x":9.52,"y":0.161},{"p":"f","s":"exact","x":9.8,"y":0.172},{"p":"f","s":"exact","x":10.13,"y":0.119},{"p":"f","s":"exact","x":10.35,"y":0.09},{"p":"f","s":"exact","x":10.69,"y":0.084},{"p":"f","s":"exact","x":11.02,"y":0.061},{"p":"f","s":"exact","x":11.35,"y":0.037},{"p":"f","s":"exact","x":11.8,"y":0.02},{"p":"f","s":"exact","x":12.23,"y":0.014},{"p":"f","s":"exact","x":12.68,"y":0.002},{"p":"f","s":"exact","x":13.78,"y":0.005},{"p":"f","s":"exact","x":15,"y":0.002}
  ]}
}
